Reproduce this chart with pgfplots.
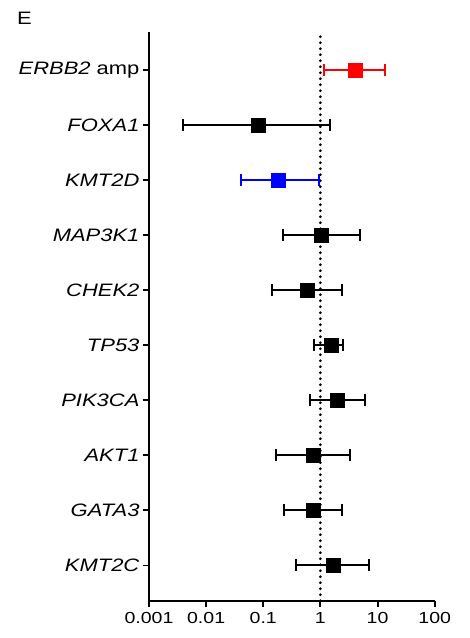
\documentclass[border=0pt]{standalone}
\usepackage{fontspec}
\setmainfont{Liberation Sans}[FakeStretch=1.22]
\usepackage{pgfplots}
\pgfplotsset{compat=1.18}
\begin{document}
\begin{tikzpicture}[x=1pt,y=1pt]
\useasboundingbox (0,0) rectangle (470,638);
\node[anchor=north west, inner sep=0pt, font=\fontsize{18}{21}\selectfont] at (17,626) {E};
\begin{axis}[
  at={(149pt,37pt)}, anchor=south west,
  scale only axis, width=285.7pt, height=569pt,
  xmode=log, log basis x=10,
  xmin=0.001, xmax=100,
  ymin=0.355, ymax=10.69,
  axis x line=bottom, axis y line=left,
  axis line style={-, line width=1.9pt},
  tick align=outside, major tick length=6pt,
  tick style={line width=1.9pt, black},
  minor tick num=0,
  xtick={0.001,0.01,0.1,1,10,100},
  xticklabels={0.001,0.01,0.1,1,10,100},
  ytick={1,2,3,4,5,6,7,8,9,10},
  yticklabels={\textit{KMT2C},\textit{GATA3},\textit{AKT1},\textit{PIK3CA},\textit{TP53},\textit{CHEK2},\textit{MAP3K1},\textit{KMT2D},\textit{FOXA1},{\textit{ERBB2} amp}},
  xticklabel style={font=\fontsize{16}{19}\selectfont, yshift=-2pt},
  yticklabel style={font=\fontsize{18}{21}\selectfont},
  /pgf/number format/assume math mode=true,
  clip=false,
  unbounded coords=jump,
]
% reference line at 1
\addplot[black, line width=3pt, dash pattern=on 0pt off 6pt, line cap=round] coordinates {(1,0.36) (1,10.69)};
% confidence intervals (black)
\addplot[black, line width=2pt, mark=|, mark size=6pt, mark options={solid}] table {
x y
0.0040 9
1.46 9
nan nan
0.222 7
5.0 7
nan nan
0.143 6
2.40 6
nan nan
0.785 5
2.49 5
nan nan
0.67 4
6.05 4
nan nan
0.17 3
3.26 3
nan nan
0.228 2
2.40 2
nan nan
0.38 1
7.2 1
};
% red
\addplot[red, line width=2pt, mark=|, mark size=6pt] table {
x y
1.17 10
13.7 10
};
% blue
\addplot[blue, line width=2pt, mark=|, mark size=6pt] table {
x y
0.040 8
0.96 8
};
% point estimates
\addplot[only marks, mark=square*, mark size=7pt, black] table {
x y
0.08 9
1.04 7
0.585 6
1.54 5
1.98 4
0.76 3
0.745 2
1.67 1
};
\addplot[only marks, mark=square*, mark size=7pt, red] table {
x y
4.0 10
};
\addplot[only marks, mark=square*, mark size=7pt, blue] table {
x y
0.179 8
};
\end{axis}
\end{tikzpicture}
\end{document}
